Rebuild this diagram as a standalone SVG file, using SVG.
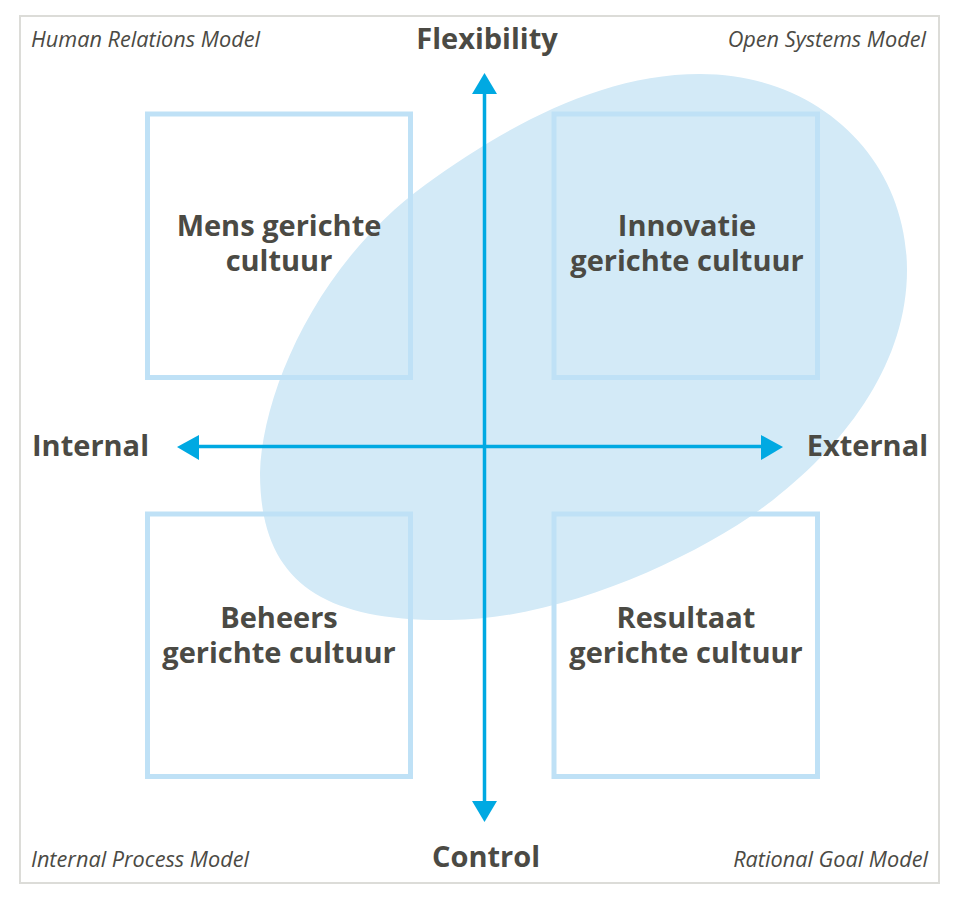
<svg xmlns="http://www.w3.org/2000/svg" width="970" height="904" viewBox="0 0 970 904">
<style>
.box{fill:none;stroke:#bfe1f6;stroke-width:5}
.ax{stroke:#00a9e2;stroke-width:3.5;fill:none}
.head{fill:#00a9e2}
.lbl{font-family:"Open Sans","Noto Sans",sans-serif;font-weight:700;font-size:29px;fill:#4b4a44;text-anchor:middle}
.ax-lbl{font-family:"Open Sans","Noto Sans",sans-serif;font-weight:700;font-size:29px;fill:#4b4a44}
.corner{font-family:"Open Sans","Noto Sans",sans-serif;font-style:italic;font-size:21.7px;fill:#4b4a44}
</style>
<rect x="0" y="0" width="970" height="904" fill="#ffffff"/>
<rect x="20" y="16" width="919" height="867" fill="#ffffff" stroke="#dcdcd8" stroke-width="2"/>
<g id="blob">
<path d="M700 74 C820 74 907 160 907 270 C907 360 850 440 773 500 C700 557 560 620 450 620 C320 622 260 580 260 473 C262 395 315 265 425 185 C505 127 600 74 700 74 Z" fill="#d3eaf7"/>
</g>
<g id="box-mens">
<rect class="box" x="147.5" y="114" width="263" height="263.5"/>
<text class="lbl" x="279" y="236">Mens gerichte</text>
<text class="lbl" x="279" y="271">cultuur</text>
</g>
<g id="box-innovatie">
<rect class="box" x="554" y="114" width="263.5" height="263.5"/>
<text class="lbl" x="687" y="236">Innovatie</text>
<text class="lbl" x="687" y="271">gerichte cultuur</text>
</g>
<g id="box-beheers">
<rect class="box" x="147.5" y="514" width="263" height="262.5"/>
<text class="lbl" x="279" y="628">Beheers</text>
<text class="lbl" x="279" y="663">gerichte cultuur</text>
</g>
<g id="box-resultaat">
<rect class="box" x="554" y="514" width="263.5" height="262.5"/>
<text class="lbl" x="686" y="628">Resultaat</text>
<text class="lbl" x="686" y="663">gerichte cultuur</text>
</g>
<g id="connectors">
<line class="ax" x1="484.5" y1="92" x2="484.5" y2="803"/>
<polygon class="head" points="484.5,73 472,94 497,94"/>
<polygon class="head" points="484.5,822 472,801 497,801"/>
<line class="ax" x1="197" y1="446.5" x2="763" y2="446.5"/>
<polygon class="head" points="177,447 199,435 199,460"/>
<polygon class="head" points="783,447 761,435 761,460"/>
</g>
<g id="axis-labels">
<text class="lbl" x="487" y="49">Flexibility</text>
<text class="lbl" x="486" y="867">Control</text>
<text class="ax-lbl" x="32" y="456">Internal</text>
<text class="ax-lbl" x="928" y="456" text-anchor="end">External</text>
</g>
<g id="model-labels">
<text class="corner" x="31" y="47">Human Relations Model</text>
<text class="corner" x="926" y="47" text-anchor="end">Open Systems Model</text>
<text class="corner" x="31" y="867">Internal Process Model</text>
<text class="corner" x="928" y="867" text-anchor="end">Rational Goal Model</text>
</g>
</svg>
